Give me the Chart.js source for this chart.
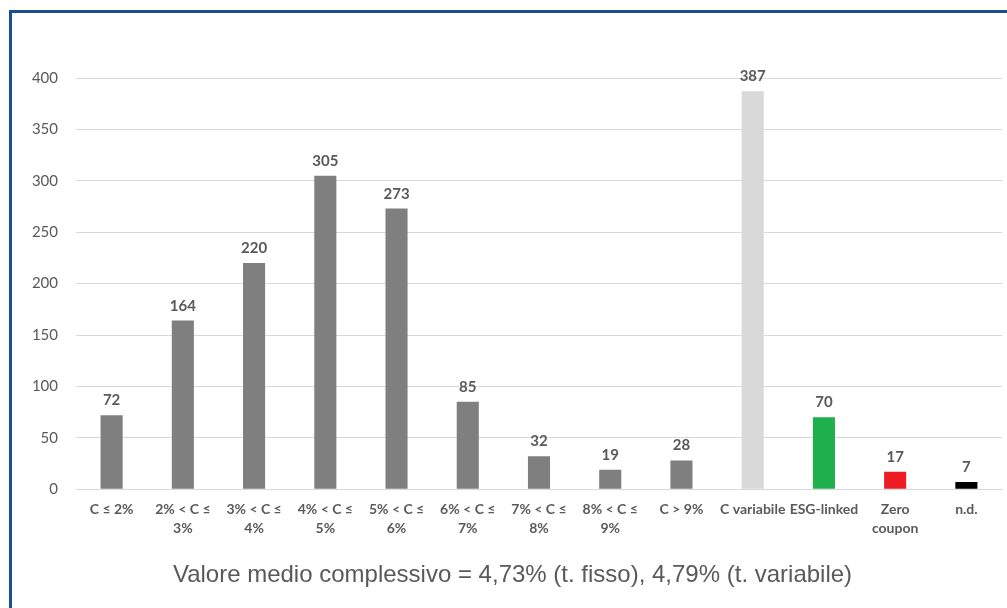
<!DOCTYPE html>
<html lang="it">
<head>
<meta charset="utf-8">
<title>Distribuzione per cedola</title>
<script src="https://cdn.jsdelivr.net/npm/chart.js@4/dist/chart.umd.min.js"></script>
<style>
  html, body { margin: 0; padding: 0; background: #ffffff; }
  #frame {
    position: absolute;
    left: 9px; top: 10px;
    width: 995px; height: 595px;
    border-left: 3px solid #1d4f8e;
    border-top: 3px solid #1d4f8e;
  }
  #chart { display: block; }
</style>
</head>
<body>
<div id="frame"><canvas id="chart" width="995" height="595"></canvas></div>
<script>
// Classi di cedola (etichette su due righe dove serve)
const categories = [
  'C ≤ 2%',
  ['2% < C ≤', '3%'],
  ['3% < C ≤', '4%'],
  ['4% < C ≤', '5%'],
  ['5% < C ≤', '6%'],
  ['6% < C ≤', '7%'],
  ['7% < C ≤', '8%'],
  ['8% < C ≤', '9%'],
  'C > 9%',
  'C variabile',
  'ESG-linked',
  ['Zero', 'coupon'],
  'n.d.'
];

// Numero di emissioni per classe
const counts = [72, 164, 220, 305, 273, 85, 32, 19, 28, 387, 70, 17, 7];

// Colore di ciascuna barra
const barColors = [
  '#7f7f7f', '#7f7f7f', '#7f7f7f', '#7f7f7f', '#7f7f7f', '#7f7f7f',
  '#7f7f7f', '#7f7f7f', '#7f7f7f', '#d9d9d9', '#20b04b', '#ed1c24', '#000000'
];

// Tacche dell'asse verticale
const yTicks = [0, 50, 100, 150, 200, 250, 300, 350, 400];

const footerText = 'Valore medio complessivo = 4,73% (t. fisso), 4,79% (t. variabile)';

const textGrey = '#595959';

// Scrive il valore sopra ogni barra
const valueLabels = {
  id: 'valueLabels',
  afterDatasetsDraw(chart) {
    const ctx = chart.ctx;
    const meta = chart.getDatasetMeta(0);
    ctx.save();
    ctx.font = 'bold 15px Lato, "Open Sans", sans-serif';
    ctx.fillStyle = textGrey;
    ctx.textAlign = 'center';
    ctx.textBaseline = 'alphabetic';
    meta.data.forEach((bar, i) => {
      ctx.fillText(String(counts[i]), bar.x, bar.y - 10);
    });
    ctx.restore();
  }
};

new Chart(document.getElementById('chart'), {
  type: 'bar',
  data: {
    labels: categories,
    datasets: [{
      data: counts,
      backgroundColor: barColors,
      borderWidth: 0,
      barPercentage: 0.31,
      categoryPercentage: 1
    }]
  },
  options: {
    responsive: false,
    animation: false,
    layout: { padding: { top: 65, right: 5, left: 11, bottom: 0 } },
    plugins: {
      legend: { display: false },
      tooltip: { enabled: false },
      title: {
        display: true,
        position: 'bottom',
        text: footerText,
        color: textGrey,
        font: { family: '"Liberation Sans", Arial, sans-serif', size: 24, weight: 'normal' },
        padding: { top: 0, bottom: 18 }
      }
    },
    scales: {
      x: {
        grid: { display: false, drawTicks: false },
        border: { display: true, color: '#d9d9d9', width: 1 },
        ticks: {
          color: textGrey,
          font: { family: 'Lato, "Open Sans", sans-serif', size: 14, weight: 'bold', lineHeight: 1.36 },
          padding: 11,
          maxRotation: 0,
          minRotation: 0,
          autoSkip: false
        },
        afterFit(scale) { scale.height = 72; }
      },
      y: {
        min: 0,
        max: 400,
        afterBuildTicks(scale) { scale.ticks = yTicks.map(v => ({ value: v })); },
        grid: { color: '#d9d9d9', drawTicks: false, lineWidth: 1 },
        border: { display: false },
        ticks: {
          color: textGrey,
          font: { family: 'Lato, "Open Sans", sans-serif', size: 15 },
          padding: 18
        },
        afterFit(scale) { scale.width = 53; }
      }
    }
  },
  plugins: [valueLabels]
});
</script>
</body>
</html>
